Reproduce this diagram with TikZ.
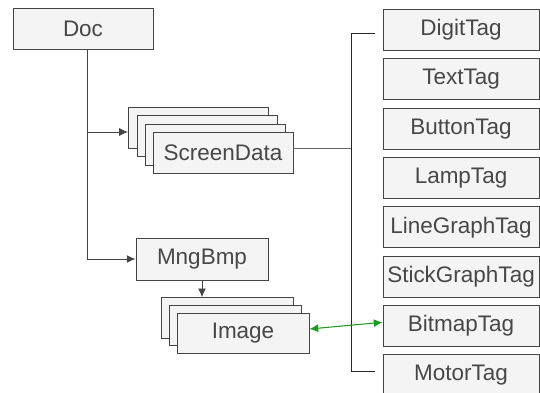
\documentclass[tikz,border=0pt]{standalone}
\usepackage{fontspec}
\setmainfont{Liberation Sans}
\usetikzlibrary{arrows.meta}
\definecolor{boxfill}{HTML}{F4F4F4}
\definecolor{boxline}{HTML}{444444}
\definecolor{linkgreen}{HTML}{1F9A1F}
\begin{document}
\begin{tikzpicture}[x=0.02cm, y=-0.02cm, font=\fontsize{12.8}{14}\selectfont,
          classbox/.style={draw=boxline, fill=boxfill, text=black!72, line width=0.5pt, inner sep=0pt},
          wide/.style={classbox, minimum width=2.8cm, minimum height=0.82cm},
          tagbox/.style={classbox, minimum width=3.12cm, minimum height=0.82cm},
          imgbox/.style={classbox, minimum width=2.64cm, minimum height=0.81cm},
          link/.style={draw=boxline, line width=0.5pt},
          arr/.style={link, -{Latex[length=5pt, width=4.5pt]}},
          both/.style={draw=linkgreen, line width=0.6pt, {Latex[length=5pt, width=4.5pt]}-{Latex[length=5pt, width=4.5pt]}}]
        \useasboundingbox (0,0) rectangle (540,392);
        % document and screen data stack
        \node[wide] (doc) at (83,29) {Doc};
        \node[wide] (sdb1) at (198,127.5) {};
        \node[wide] (sdb2) at (207,136) {};
        \node[wide] (sdb3) at (215,144.5) {};
        \node[wide] (sd) at (223,152.5) {ScreenData};
        % bitmap manager and image stack
        \node[classbox, minimum width=2.64cm, minimum height=0.84cm] (mng) at (202,259) {MngBmp};
        \node[imgbox] (imb1) at (227,318) {};
        \node[imgbox] (imb2) at (235,325.5) {};
        \node[imgbox] (img) at (243,333.5) {Image};
        % tag classes
        \foreach \tagname [count=\i from 0] in {DigitTag,TextTag,ButtonTag,LampTag,LineGraphTag,StickGraphTag,BitmapTag,MotorTag} {
          \node[tagbox] (tag\i) at (461,{30+49.3*\i}) {\tagname};
        }
        % connectors
        \coordinate (trunk) at (87,49);
        \coordinate (sdin) at (128,132);
        \coordinate (bustop) at (351,33);
        \coordinate (busbot) at (351,371);
        \coordinate (ticktop) at (375,33);
        \coordinate (tickbot) at (375,371);
        \draw[link] (trunk) -- (trunk |- mng.west);
        \draw[arr] (sdin -| trunk) -- (sdin);
        \draw[arr] (trunk |- mng.west) -- (mng.west);
        \draw[arr] (mng.south) -- (mng.south |- imb1.north);
        \draw[link, draw=black!60] ([yshift=0.08cm]sd.east) -- ([yshift=0.08cm]sd.east -| bustop);
        \draw[link, draw=black!85] (ticktop) -- (bustop) -- (busbot) -- (tickbot);
        \draw[both] ([yshift=0.09cm]img.east) -- ([yshift=0.07cm]tag6.west);
      \end{tikzpicture}
\end{document}
